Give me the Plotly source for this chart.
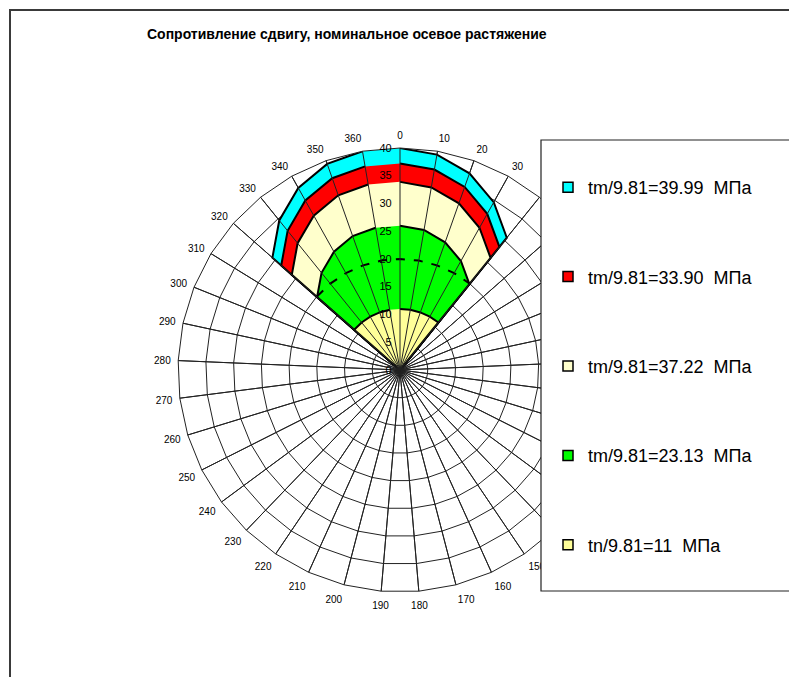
import plotly.graph_objects as go

# Angular categories: 0..360 in steps of 10 degrees (37 spokes)
angles = ["0", "10", "20", "30", "40", "50", "60", "70", "80", "90",
          "100", "110", "120", "130", "140", "150", "160", "170", "180",
          "190", "200", "210", "220", "230", "240", "250", "260", "270",
          "280", "290", "300", "310", "320", "330", "340", "350", "360"]
# Category labels that sit under the legend panel are left blank
covered_labels = ["40", "50", "60", "70", "80", "90", "100", "110", "120", "130", "140"]

# Shear resistance envelopes, one value per angular category
tau_cyan = [39.99, 39.38, 37.58, 34.63, 30.63,
            0, 0, 0, 0, 0, 0, 0, 0, 0, 0, 0, 0, 0, 0, 0, 0, 0, 0, 0, 0, 0, 0, 0, 0, 0, 0, 0,
            30.63, 34.63, 37.58, 39.38, 39.99]
tau_red = [37.22, 36.65, 34.98, 32.23, 28.51,
           0, 0, 0, 0, 0, 0, 0, 0, 0, 0, 0, 0, 0, 0, 0, 0, 0, 0, 0, 0, 0, 0, 0, 0, 0, 0, 0,
           28.51, 32.23, 34.98, 36.65, 37.22]
tau_cream = [33.90, 33.38, 31.86, 29.36, 25.97,
             0, 0, 0, 0, 0, 0, 0, 0, 0, 0, 0, 0, 0, 0, 0, 0, 0, 0, 0, 0, 0, 0, 0, 0, 0, 0, 0,
             25.97, 29.36, 31.86, 33.38, 33.90]
tau_green = [26.0, 25.6, 24.4, 22.5, 19.9,
             0, 0, 0, 0, 0, 0, 0, 0, 0, 0, 0, 0, 0, 0, 0, 0, 0, 0, 0, 0, 0, 0, 0, 0, 0, 0, 0,
             19.9, 22.5, 24.4, 25.6, 26.0]
tau_normal = [11, 11, 11, 11, 11,
              0, 0, 0, 0, 0, 0, 0, 0, 0, 0, 0, 0, 0, 0, 0, 0, 0, 0, 0, 0, 0, 0, 0, 0, 0, 0, 0,
              11, 11, 11, 11, 11]

# Dashed reference arc
arc_angles = ["320", "330", "340", "350", "360", "0", "10", "20", "30", "40"]
arc_values = [20, 20, 20, 20, 20, 20, 20, 20, 20, 20]

series_names = ["tm/9.81=39.99\u00a0\u00a0МПа",
                "tm/9.81=33.90\u00a0\u00a0МПа",
                "tm/9.81=37.22\u00a0\u00a0МПа",
                "tm/9.81=23.13\u00a0\u00a0МПа",
                "tn/9.81=11\u00a0\u00a0МПа"]
series_values = [tau_cyan, tau_red, tau_cream, tau_green, tau_normal]
series_colors = ["#00FFFF", "#FF0000", "#FFFFCC", "#00FF00", "#FFFF99"]

R_MAX = 40
FONT = "Arial, 'Liberation Sans', sans-serif"
W, H = 789, 677

fig = go.Figure()

# Legend-only swatches (square markers with black edge)
for i, (name, color) in enumerate(zip(series_names, series_colors)):
    fig.add_trace(go.Scatterpolar(
        r=[None], theta=[None], mode="markers", name=name,
        legendgroup=f"g{i}",
        marker=dict(symbol="square", size=10, color=color,
                    line=dict(color="black", width=1.5)),
        hoverinfo="skip"))

# Filled envelopes, largest first so the smaller ones sit on top
for i, (vals, color) in enumerate(zip(series_values[:4], series_colors[:4])):
    fig.add_trace(go.Scatterpolar(
        r=vals, theta=angles, mode="lines", fill="toself",
        fillcolor=color, line=dict(color="black", width=2),
        showlegend=False, legendgroup=f"g{i}", hoverinfo="skip"))

fig.add_trace(go.Scatterpolar(
    r=arc_values, theta=arc_angles, mode="lines",
    line=dict(color="black", width=2, dash="dash"), showlegend=False,
    hoverinfo="skip"))

fig.add_trace(go.Scatterpolar(
    r=tau_normal, theta=angles, mode="lines", fill="toself",
    fillcolor=series_colors[4], line=dict(color="black", width=2),
    showlegend=False, legendgroup="g4", hoverinfo="skip"))

# Category spokes repeated over the filled areas
spoke_r, spoke_t = [], []
for a in angles:
    spoke_r += [0, R_MAX, None]
    spoke_t += [a, a, None]
fig.add_trace(go.Scatterpolar(
    r=spoke_r, theta=spoke_t, mode="lines", connectgaps=False,
    line=dict(color="#222222", width=1), showlegend=False, hoverinfo="skip"))

angle_text = ["" if a in covered_labels else a for a in angles]

cx, cy, R = 400, 370, 222
fig.update_layout(
    width=W, height=H,
    margin=dict(l=0, r=0, t=0, b=0),
    paper_bgcolor="white",
    font=dict(family=FONT, color="black"),
    polar=dict(
        domain=dict(x=[(cx - R) / W, (cx + R) / W],
                    y=[(H - cy - R) / H, (H - cy + R) / H]),
        bgcolor="white",
        gridshape="linear",
        angularaxis=dict(
            type="category", categoryorder="array", categoryarray=angles,
            tickmode="array", tickvals=angles, ticktext=angle_text,
            direction="clockwise", rotation=90,
            showgrid=True, gridcolor="#222222", gridwidth=1,
            showline=True, linecolor="#222222", linewidth=1,
            ticks="outside", ticklen=5, tickcolor="rgba(0,0,0,0)",
            tickfont=dict(size=10, color="black", family=FONT),
            layer="above traces"),
        radialaxis=dict(
            range=[0, R_MAX], tick0=0, dtick=5, angle=90, side="counterclockwise",
            showline=False, showgrid=True, gridcolor="#222222", gridwidth=1,
            ticks="outside", ticklen=4, tickcolor="rgba(0,0,0,0)",
            tickfont=dict(size=11, color="black", family=FONT),
            tickangle=90, layer="above traces")),
    showlegend=True,
    legend=dict(
        x=548 / W, y=1 - 169 / H, xanchor="left", yanchor="top",
        bgcolor="rgba(0,0,0,0)", borderwidth=0,
        font=dict(size=18, family=FONT, color="black"),
        tracegroupgap=63, itemclick=False, itemdoubleclick=False),
    shapes=[
        # outer chart frame
        dict(type="rect", xref="paper", yref="paper",
             x0=10 / W, x1=1.05, y0=-0.05, y1=1 - 10 / H,
             line=dict(color="#3a3a3a", width=2), fillcolor="rgba(0,0,0,0)",
             layer="below"),
        # legend box, opaque over the plot
        dict(type="rect", xref="paper", yref="paper",
             x0=541 / W, x1=1.05, y0=1 - 591 / H, y1=1 - 140 / H,
             line=dict(color="#222222", width=1.2), fillcolor="white",
             layer="above"),
    ],
    annotations=[
        dict(text="<b>Сопротивление сдвигу, номинальное осевое растяжение</b>",
             x=145 / W, y=1 - 34 / H, xref="paper", yref="paper",
             xanchor="left", yanchor="middle", showarrow=False,
             font=dict(size=14, family=FONT, color="black")),
    ],
)

fig.write_html("out.html")
